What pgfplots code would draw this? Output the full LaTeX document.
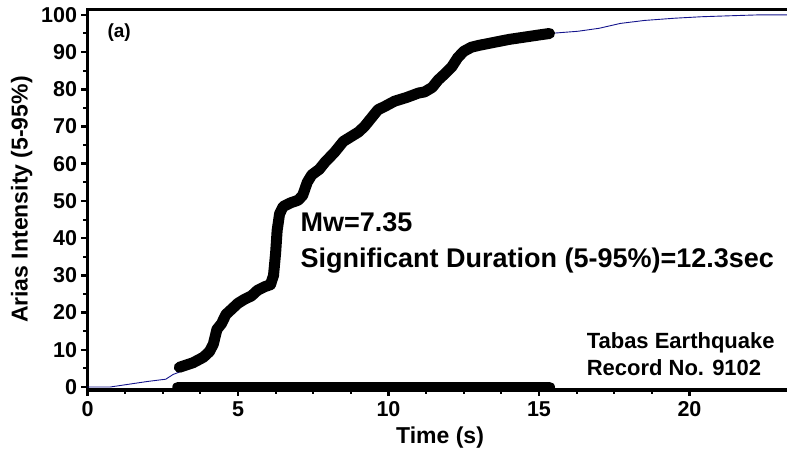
\documentclass[border=0pt]{standalone}
\usepackage{pgfplots}
\pgfplotsset{compat=1.18}
\usepackage{fontspec}
\setmainfont{Liberation Sans}
\definecolor{navy}{RGB}{20,20,140}
\begin{document}
\begin{tikzpicture}
\begin{axis}[
  scale only axis,
  width=699.5pt, height=380.7pt,
  xmin=0, xmax=23.24, ymin=-0.8, ymax=101.5,
  axis x line*=box, axis y line*=left,
  axis line style={-, line width=3.5pt, line cap=rect},
  xtick={0,5,10,15,20}, ytick={0,10,...,100},
  minor x tick num=3, minor y tick num=1,
  xtick pos=left, ytick pos=left,
  tick align=outside,
  major tick length=6pt, minor tick length=4pt,
  every major tick/.style={line width=2.5pt, black},
  every minor tick/.style={line width=2pt, black},
  /pgf/number format/assume math mode=true,
  tick label style={font=\bfseries\fontsize{21.5}{21.5}\selectfont},
  xticklabel style={yshift=-2pt},
  yticklabel style={xshift=-1pt},
  xlabel={Time (s)}, ylabel={Arias Intensity (5-95\%)},
  label style={font=\bfseries\fontsize{23}{23}\selectfont},
  xlabel style={at={(axis description cs:0.504,-0.126)}, anchor=center},
  ylabel style={at={(axis description cs:-0.094,0.5)}, anchor=center},
  clip=true,
]
\coordinate (sw) at (rel axis cs:0,0);
\coordinate (ne) at (rel axis cs:1,1);
% thin cumulative Arias intensity curve
\addplot[navy, line width=0.9pt] coordinates {
(0,0) (0.75,0) (1.5,0.9) (2.0,1.5) (2.6,2.1) (2.85,3.4) (3.05,4.0)
(3.5,6.5) (4.0,9.0) (5.0,22.5) (6.0,27.2) (6.4,47) (7.0,50.2) (8.0,61)
(9.0,68.5) (10.0,76) (11.0,79) (12.0,85) (12.5,90.2) (13.5,92.6) (15.35,95.0)
(16.3,95.6) (17.0,96.4) (17.7,97.7) (18.5,98.5) (19.5,99.1) (20.4,99.5)
(21.5,99.8) (22.3,100) (23.3,100)
};
% significant duration part (thick markers)
\addplot[black, line width=11pt, line cap=round, line join=round] coordinates {
(3.05,5.3) (3.5,6.5) (3.85,8.0) (4.05,9.5) (4.18,11.5) (4.3,15.5) (4.45,17.0)
(4.6,19.5) (4.8,21.0) (5.0,22.5) (5.2,23.5) (5.45,24.5) (5.65,26.0) (5.9,27.0)
(6.08,27.5) (6.18,30) (6.25,36) (6.3,42) (6.38,46.5) (6.5,48.5) (6.75,49.5)
(7.0,50.2) (7.15,51.5) (7.3,55) (7.45,57) (7.7,58.5) (7.9,60.5) (8.2,63)
(8.5,66) (8.7,67) (9.0,68.5) (9.2,70) (9.45,72.5) (9.65,74.5) (9.9,75.5)
(10.2,76.8) (10.6,77.8) (11.0,79) (11.2,79.3) (11.45,80.5) (11.65,82.5)
(11.85,84) (12.1,86) (12.3,88.5) (12.5,90.2) (12.75,91.3) (13.0,91.8)
(13.5,92.6) (14.0,93.4) (14.5,94.0) (15.0,94.6) (15.35,95.0)
};
\addplot[black, line width=11pt, line cap=round] coordinates {(3.0,0) (15.35,0)};
\node[anchor=base west, font=\bfseries\fontsize{19}{19}\selectfont] at (axis cs:0.55,93.8) {(a)};
\node[anchor=base west, font=\bfseries\fontsize{27}{27}\selectfont] at (axis cs:6.96,41.9) {Mw=7.35};
\node[anchor=base west, font=\bfseries\fontsize{27}{27}\selectfont] at (axis cs:6.96,32.0) {Significant Duration (5-95\%)=12.3sec};
\node[anchor=base west, font=\bfseries\fontsize{22}{22}\selectfont] at (axis cs:16.47,10.3) {Tabas Earthquake};
\node[anchor=base west, font=\bfseries\fontsize{22}{22}\selectfont] at (axis cs:16.47,3.2) {Record No. 9102};
\end{axis}
\pgfresetboundingbox
\path[use as bounding box] ([shift={(-87.5pt,-67pt)}]sw) rectangle ([shift={(0pt,9.3pt)}]ne);
\end{tikzpicture}
\end{document}
